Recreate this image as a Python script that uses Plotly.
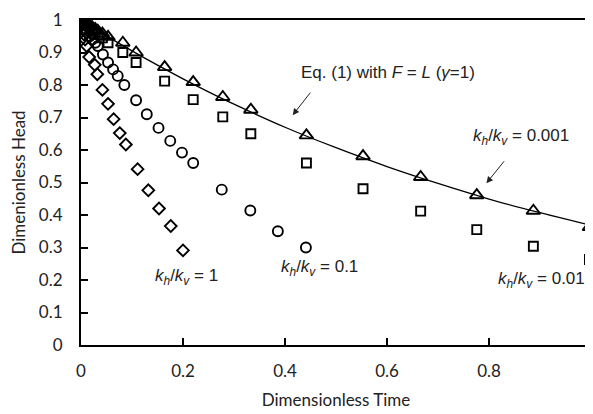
import plotly.graph_objects as go

# k_h/k_v = 0.001 (triangles)
t_001 = [0.0028, 0.0056, 0.0083, 0.011, 0.014, 0.017, 0.022, 0.028, 0.033, 0.042,
         0.053, 0.082, 0.108, 0.164, 0.220, 0.278, 0.333, 0.442, 0.553, 0.666,
         0.776, 0.887, 0.997]
h_001 = [0.997, 0.994, 0.990, 0.988, 0.985, 0.982, 0.978, 0.972, 0.967, 0.958,
         0.948, 0.930, 0.900, 0.855, 0.809, 0.763, 0.724, 0.645, 0.581, 0.517,
         0.461, 0.413, 0.363]

# k_h/k_v = 0.01 (squares)
t_01 = [0.0028, 0.0056, 0.011, 0.017, 0.022, 0.028, 0.033, 0.042, 0.053, 0.082,
        0.108, 0.164, 0.220, 0.278, 0.333, 0.442, 0.553, 0.666, 0.776, 0.887, 0.997]
h_01 = [0.995, 0.990, 0.982, 0.975, 0.968, 0.960, 0.955, 0.945, 0.930, 0.900,
        0.869, 0.812, 0.755, 0.702, 0.650, 0.560, 0.481, 0.412, 0.355, 0.304, 0.263]

# k_h/k_v = 0.1 (circles)
t_1 = [0.003, 0.006, 0.011, 0.017, 0.022, 0.028, 0.033, 0.043, 0.053, 0.063,
       0.072, 0.085, 0.108, 0.129, 0.152, 0.175, 0.198, 0.220, 0.276, 0.332,
       0.386, 0.441]
h_1 = [0.985, 0.975, 0.962, 0.950, 0.940, 0.930, 0.920, 0.894, 0.869, 0.848,
       0.828, 0.800, 0.753, 0.710, 0.668, 0.628, 0.592, 0.560, 0.478, 0.414,
       0.350, 0.300]

# k_h/k_v = 1 (diamonds)
t_10 = [0.002, 0.004, 0.006, 0.008, 0.011, 0.016, 0.027, 0.032, 0.042, 0.053,
        0.064, 0.076, 0.088, 0.111, 0.132, 0.153, 0.176, 0.200]
h_10 = [0.985, 0.970, 0.955, 0.940, 0.920, 0.886, 0.862, 0.833, 0.785, 0.742,
        0.695, 0.652, 0.617, 0.541, 0.476, 0.420, 0.366, 0.291]

# Eq. (1) curve
t_eq = [0.0, 0.05, 0.1, 0.15, 0.2, 0.25, 0.3, 0.4, 0.5, 0.6, 0.7, 0.8, 0.9, 1.0]
h_eq = [1.0, 0.951, 0.905, 0.861, 0.819, 0.779, 0.741, 0.670, 0.607, 0.549,
        0.497, 0.449, 0.407, 0.368]

x_ticks = [0, 0.2, 0.4, 0.6, 0.8, 1]
x_labels = ["0", "0.2", "0.4", "0.6", "0.8", "1"]
y_ticks = [0, 0.1, 0.2, 0.3, 0.4, 0.5, 0.6, 0.7, 0.8, 0.9, 1]
y_labels = ["0", "0.1", "0.2", "0.3", "0.4", "0.5", "0.6", "0.7", "0.8", "0.9", "1"]

fig = go.Figure()
fig.add_trace(go.Scatter(x=t_eq, y=h_eq, mode="lines", line=dict(color="black", width=1.3, shape="spline"),
                         hoverinfo="skip", showlegend=False))
mk = dict(color="black", line=dict(color="black", width=1.9))
fig.add_trace(go.Scatter(x=t_01, y=h_01, mode="markers", showlegend=False,
                         marker=dict(symbol="square-open", size=9, **mk)))
fig.add_trace(go.Scatter(x=t_001, y=h_001, mode="markers", showlegend=False,
                         marker=dict(symbol="triangle-up-open", size=12, **mk)))
fig.add_trace(go.Scatter(x=t_1, y=h_1, mode="markers", showlegend=False,
                         marker=dict(symbol="circle-open", size=10, **mk)))
fig.add_trace(go.Scatter(x=t_10, y=h_10, mode="markers", showlegend=False,
                         marker=dict(symbol="diamond-open", size=9, **mk)))

afont = dict(family="Liberation Sans, Arial, sans-serif", size=17, color="#222")
texts = [
    (0.601, 0.838, "Eq. (1) with <i>F</i> = <i>L</i> (<i>γ</i>=1)"),
    (0.863, 0.640, "<i>k<sub>h</sub></i>/<i>k<sub>v</sub></i> = 0.001"),
    (0.903, 0.199, "<i>k<sub>h</sub></i>/<i>k<sub>v</sub></i> = 0.01"),
    (0.467, 0.236, "<i>k<sub>h</sub></i>/<i>k<sub>v</sub></i> = 0.1"),
    (0.207, 0.208, "<i>k<sub>h</sub></i>/<i>k<sub>v</sub></i> = 1"),
]
for x, y, s in texts:
    fig.add_annotation(x=x, y=y, text=s, showarrow=False, font=afont, xref="x", yref="y")

arrows = [
    ((0.452, 0.781), (0.415, 0.707)),
    ((0.832, 0.570), (0.795, 0.498)),
]
for (tx, ty), (hx, hy) in arrows:
    fig.add_annotation(x=hx, y=hy, ax=tx, ay=ty, xref="x", yref="y", axref="x", ayref="y",
                       text="", showarrow=True, arrowhead=2, arrowsize=1.3, arrowwidth=1,
                       arrowcolor="#222")

tfont = dict(family="Lato, Carlito, sans-serif", size=17, color="#222")
fig.update_xaxes(range=[0, 1], tickvals=x_ticks, ticktext=x_labels, ticks="inside", ticklen=7,
                 tickwidth=1.5, tickcolor="black", showline=True, linecolor="black", linewidth=2,
                 mirror=True, showgrid=False, zeroline=False, tickfont=tfont,
                 ticklabelstandoff=10, automargin=False,
                 title=dict(text="Dimensionless Time", font=tfont, standoff=14))
fig.update_yaxes(range=[0, 1], tickvals=y_ticks, ticktext=y_labels, ticks="inside", ticklen=7,
                 tickwidth=1.5, tickcolor="black", showline=True, linecolor="black", linewidth=2,
                 mirror=True, showgrid=False, zeroline=False, tickfont=tfont,
                 ticklabelstandoff=13, automargin=False,
                 title=dict(text="Dimenionless Head", font=tfont, standoff=10))
# page body has an 8px margin, so offsets are compensated in the margins
fig.update_layout(width=593, height=414, margin=dict(l=73, r=10, t=12, b=77),
                  plot_bgcolor="white", paper_bgcolor="white")

fig.write_html("out.html")
